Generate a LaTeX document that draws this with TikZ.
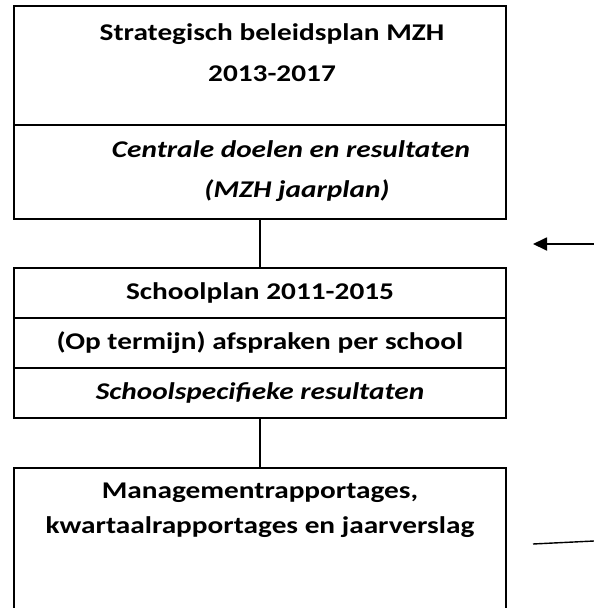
\documentclass[tikz,border=0pt]{standalone}
\usepackage{fontspec}
\usepackage{graphicx}
\setmainfont{Carlito}
\usetikzlibrary{arrows.meta}

% Word stretched the text a little in width
\newcommand{\wide}[1]{\scalebox{1.22}[1]{#1}}

\begin{document}
\begin{tikzpicture}[
  x=1pt, y=-1pt,
  >={Triangle[length=14pt,width=13pt]},
  every node/.style={font=\fontsize{24}{41}\selectfont, inner sep=0pt},
  frame/.style={rectangle, draw=black, line width=1.8pt, minimum width=492pt},
  title/.style={font=\bfseries\fontsize{24}{41}\selectfont, align=center},
  goal/.style={font=\bfseries\itshape\fontsize{24}{40}\selectfont, align=center},
  link/.style={line width=1.4pt}
]
  \useasboundingbox (0,0) rectangle (594,608);
  \clip (0,0) rectangle (594,608);

  % strategisch beleidsplan
  \node[frame, minimum height=119pt] (plan) at (260,65.5) {};
  \node[frame, minimum height=94pt] (doel) at (260,172) {};
  \node[title] (plantxt) at (272,52.5) {\wide{Strategisch beleidsplan MZH}\\\wide{2013-2017}};
  \node[goal] (doeltxt) at (291,171) {\wide{Centrale doelen en resultaten}\\\hspace*{12pt}\wide{(MZH jaarplan)}};

  % schoolplan
  \node[frame, minimum height=50pt] (school) at (260,293) {};
  \node[frame, minimum height=50pt] (afspraak) at (260,343) {};
  \node[frame, minimum height=50pt] (result) at (260,393) {};
  \node[title] (schooltxt) at (school) {\wide{Schoolplan 2011-2015}};
  \node[title] (afspraaktxt) at (afspraak) {\wide{(Op termijn) afspraken per school}};
  \node[goal] (resulttxt) at (result) {\wide{Schoolspecifieke resultaten}};

  % rapportages
  \node[frame, minimum height=180pt] (rapport) at (260,558) {};
  \node[title, font=\bfseries\fontsize{24}{35}\selectfont] (rapporttxt) at (260,510.5) {\wide{Managementrapportages,}\\\wide{kwartaalrapportages en jaarverslag}};

  \draw[link] (doel.south) -- (school.north);
  \draw[link] (result.south) -- (rapport.north);

  \coordinate (inA) at (594,244);
  \coordinate (inB) at (533,244);
  \coordinate (outA) at (533,544);
  \coordinate (outB) at (594,541);
  \draw[->, line width=1.8pt] (inA) -- (inB);
  \draw[line width=1.4pt] (outA) -- (outB);
\end{tikzpicture}
\end{document}
